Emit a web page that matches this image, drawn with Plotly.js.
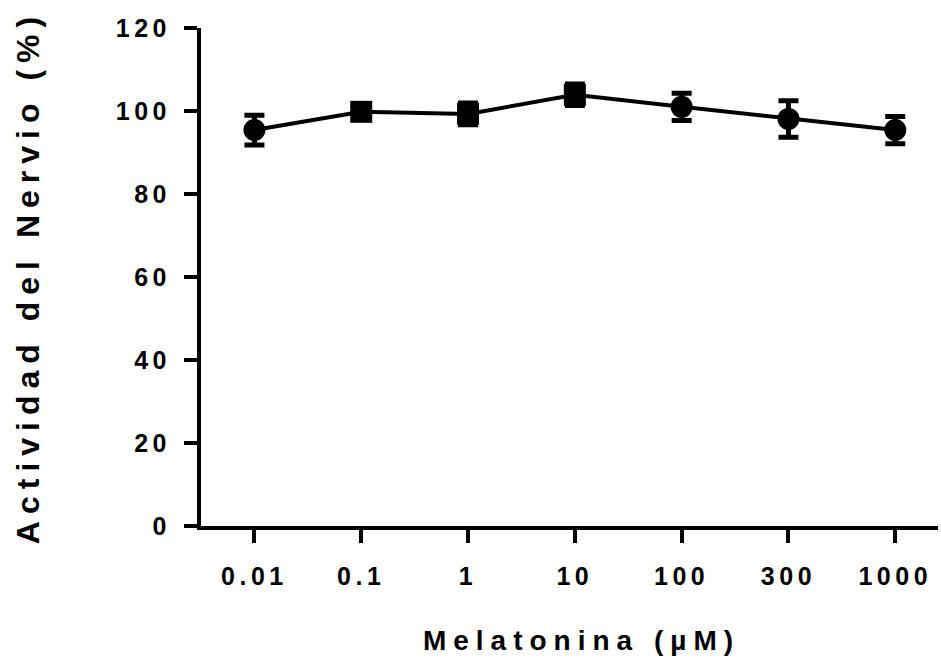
<!DOCTYPE html>
<html>
<head>
<meta charset="utf-8">
<script src="https://cdn.plot.ly/plotly-3.0.1.min.js"></script>
<style>
html,body{margin:0;padding:0;background:#fff;}
#chart{width:941px;height:664px;}
#chart .xtick text, #chart .ytick text{letter-spacing:4.5px;}
#chart .g-xtitle text{letter-spacing:7px;}
#chart .g-xtitle{transform:translateX(12px);}
#chart .g-ytitle text{letter-spacing:7px;}
</style>
</head>
<body>
<div id="chart"></div>
<script>
var categories = ["0.01", "0.1", "1", "10", "100", "300", "1000"];
var activity = [95.4, 99.8, 99.3, 103.9, 101.0, 98.1, 95.4];
var errors = [3.6, 1.5, 2.6, 2.6, 3.3, 4.4, 3.3];
var symbols = ["circle", "square", "square", "square", "circle", "circle", "circle"];
var yTickVals = [0, 20, 40, 60, 80, 100, 120];

var font = {family: "Liberation Sans, Arial, sans-serif", color: "#000", weight: "bold"};

var trace = {
  x: categories,
  y: activity,
  type: "scatter",
  mode: "lines+markers",
  line: {color: "#000", width: 4},
  marker: {color: "#000", symbol: symbols, size: 22},
  error_y: {type: "data", array: errors, visible: true, color: "#000", thickness: 5, width: 10},
  showlegend: false,
  hoverinfo: "none"
};

var layout = {
  width: 941, height: 664,
  margin: {l: 201, r: 3, t: 28, b: 138},
  paper_bgcolor: "#fff", plot_bgcolor: "#fff",
  font: Object.assign({}, font, {size: 25}),
  xaxis: {
    type: "category",
    range: [-0.5, 6.4],
    showline: true, linecolor: "#000", linewidth: 4,
    ticks: "outside", ticklen: 13, tickwidth: 4, tickcolor: "#000",
    showgrid: false, zeroline: false,
    tickfont: Object.assign({}, font, {size: 25}),
    ticklabelstandoff: 12,
    title: {text: "Melatonina (µM)", font: Object.assign({}, font, {size: 28}), standoff: 42}
  },
  yaxis: {
    range: [0, 120],
    tickvals: yTickVals,
    showline: true, linecolor: "#000", linewidth: 4,
    ticks: "outside", ticklen: 13, tickwidth: 4, tickcolor: "#000",
    showgrid: false, zeroline: false,
    tickfont: Object.assign({}, font, {size: 25}),
    ticklabelstandoff: 8,
    title: {text: "Actividad del Nervio (%)", font: Object.assign({}, font, {size: 32}), standoff: 81}
  }
};

Plotly.newPlot("chart", [trace], layout, {displayModeBar: false, staticPlot: true});
</script>
</body>
</html>
